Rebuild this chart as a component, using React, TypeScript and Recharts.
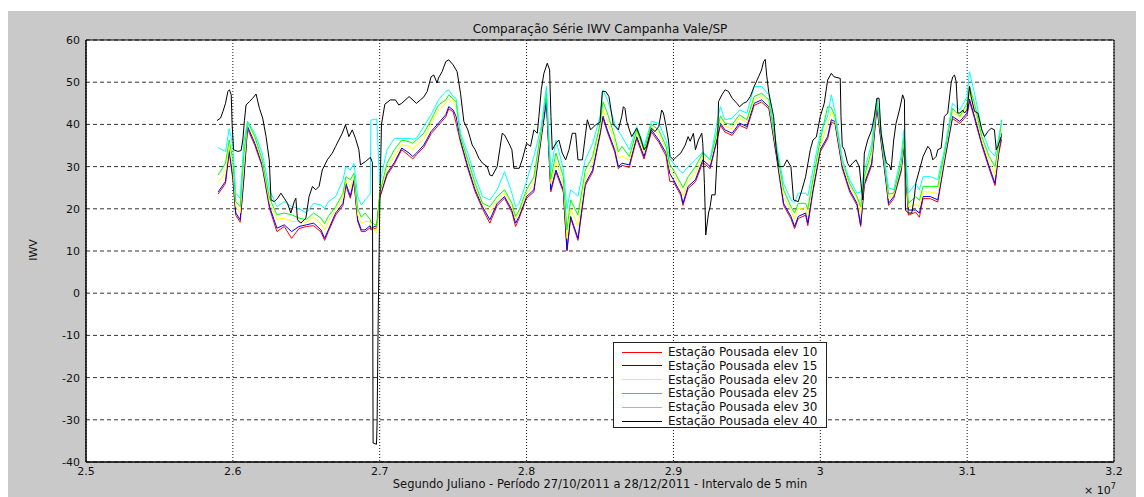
import React from "react";
import { LineChart, Line, XAxis, YAxis, CartesianGrid, ReferenceArea } from "recharts";

// tempo em segundos julianos (x 10^7)
const xs = [
  2.59, 2.595, 2.5975, 2.6, 2.602, 2.605, 2.6075, 2.61, 2.615, 2.62,
  2.625, 2.63, 2.635, 2.64, 2.645, 2.65, 2.655, 2.66, 2.6625, 2.665,
  2.67, 2.675, 2.677, 2.68, 2.6825, 2.685, 2.6875, 2.69, 2.6935, 2.694,
  2.698, 2.7, 2.705, 2.71, 2.715, 2.72, 2.7225, 2.725, 2.73, 2.735,
  2.74, 2.745, 2.747, 2.75, 2.752, 2.755, 2.76, 2.765, 2.77, 2.775,
  2.78, 2.785, 2.79, 2.7925, 2.795, 2.8, 2.805, 2.81, 2.8135, 2.8165,
  2.82, 2.825, 2.8275, 2.83, 2.835, 2.84, 2.845, 2.85, 2.852, 2.855,
  2.86, 2.8625, 2.865, 2.87, 2.875, 2.88, 2.885, 2.89, 2.895, 2.8975,
  2.9, 2.905, 2.9065, 2.91, 2.915, 2.92, 2.925, 2.93, 2.932, 2.935,
  2.94, 2.945, 2.95, 2.955, 2.96, 2.965, 2.97, 2.975, 2.98, 2.9825,
  2.985, 2.99, 2.9915, 2.995, 3.0, 3.005, 3.0075, 3.01, 3.015, 3.02,
  3.025, 3.0275, 3.03, 3.035, 3.0385, 3.04, 3.045, 3.0465, 3.05, 3.055,
  3.057, 3.06, 3.065, 3.0675, 3.07, 3.075, 3.08, 3.085, 3.09, 3.095,
  3.1, 3.1016, 3.105, 3.11, 3.115, 3.119, 3.1215, 3.1235,
];

const elev10 = [
  23.5, 26, 33.5, 27, 18.5, 16.8, 27, 39, 35, 30,
  20, 14.6, 15.8, 13, 15.3, 15.8, 16, 14.5, 12.5, 14.6,
  18.5, 20.8, 25.5, 22.5, 26.4, 17, 14.6, 14.6, 15.5, 15,
  15.5, 22.5, 28, 30.6, 34, 32.6, 31.8, 32.8, 34.6, 37.8,
  39.8, 41.8, 43.7, 43, 40.3, 35.8, 29.5, 24, 20, 16.6,
  20.8, 22.5, 19.2, 15.8, 17.8, 22.5, 24, 36.6, 45.3, 24,
  28.7, 24, 10, 17.8, 12.5, 25.5, 28.7, 37.4, 41.5, 38.2,
  33.5, 29.5, 30.3, 29.8, 36.6, 31.8, 38.2, 35.8, 32.5, 26.5,
  26.4, 23.2, 20.8, 24.8, 26.4, 31, 29.5, 36.6, 39.8, 38.2,
  37.4, 39.8, 39, 44.5, 45.3, 43.7, 32.7, 20.8, 17.7, 15.3,
  17.7, 18.5, 16, 24, 33.5, 36.6, 40.5, 40.2, 29.5, 24,
  20.8, 15.8, 25.5, 30.3, 44, 39.8, 25.5, 20.8, 22.4, 28.7,
  34.5, 18.5, 19.2, 18, 22.4, 22.4, 21.6, 31.9, 41.4, 40.2,
  42.2, 45.5, 41.4, 35, 29.5, 25.5, 33, 36.5,
];

const elev15 = [
  24, 26.5, 34, 27.6, 19, 17.4, 27.5, 39.5, 35.5, 30.4,
  20.5, 15.4, 16.2, 14.6, 15.8, 16.2, 16.6, 15, 13, 15,
  19, 21.3, 26, 23, 26.9, 17.4, 15, 15, 16, 15.4,
  16, 22.9, 28.4, 31, 34.4, 33.2, 32.4, 33.2, 35.1, 38.3,
  40.3, 42.3, 44.2, 43.4, 41.9, 36.3, 30, 24.5, 20.5, 17.4,
  21.3, 22.9, 19.7, 16.6, 18.2, 22.9, 24.5, 37.1, 45.8, 24.5,
  29.2, 24.5, 10.3, 18.2, 13, 26, 29.2, 37.9, 42, 38.7,
  34, 30, 30.8, 30.4, 37.1, 32.4, 38.7, 36.3, 33.2, 28.4,
  26.9, 23.7, 21.3, 25.3, 26.9, 31.6, 30, 37.1, 40.3, 38.7,
  37.9, 40.3, 39.5, 45, 45.8, 44.2, 33.2, 21.3, 18.2, 15.8,
  18.2, 19, 16.6, 24.5, 34, 37.1, 41.1, 40.7, 30, 24.5,
  21.3, 16.2, 26, 30.8, 44.5, 40.3, 26, 21.3, 22.9, 29.2,
  35, 19.7, 19.7, 19, 22.9, 22.9, 22.1, 32.4, 41.9, 40.7,
  42.7, 46, 41.9, 35.5, 30, 26, 33.5, 37.9,
];

const elev20 = [
  26.5, 28.5, 35, 29.5, 20.5, 19, 30, 40.5, 36.5, 31,
  21.5, 17.5, 17.8, 17, 17, 16.8, 18, 16.5, 15, 17,
  19.8, 22.5, 26.8, 25, 27.6, 18.5, 16.5, 17, 17, 16,
  14.2, 23.3, 29.5, 32.5, 35.2, 34.8, 34, 35, 36.5, 40.3,
  43.4, 45, 46, 45.5, 44, 37, 31, 25.3, 21, 19,
  22, 23.8, 20.5, 17.5, 19, 23.5, 26, 38, 49, 26,
  31, 26, 13, 20, 16, 27.5, 30.8, 39, 43.5, 40.8,
  35.5, 32, 32.5, 31.5, 38, 33.3, 39.5, 37.5, 34.3, 29.5,
  28, 25, 23, 26.5, 28.5, 32.5, 31, 38, 41, 39.5,
  39, 41.5, 40.5, 45.8, 46.6, 45, 34, 23, 19.5, 17.5,
  20, 20.3, 18.5, 26, 35, 40, 43, 41.2, 30.8, 25.3,
  22.5, 18.5, 27, 32.5, 45.5, 41.2, 27, 22.5, 23.3, 30,
  36, 20.5, 21, 20.5, 24, 24, 23.5, 33.3, 43, 41.5,
  44, 47.5, 43.5, 36.3, 31.2, 28, 34.5, 39,
];

const elev25 = [
  28, 30.8, 36.3, 31.6, 21.7, 20.5, 33, 40.7, 37.1, 31.6,
  22.5, 18.6, 19, 18.6, 17.8, 17.4, 19, 17.8, 16.5, 18.2,
  20.5, 23.7, 27.6, 26.9, 28.4, 20, 18, 19, 17.5, 16.8,
  16, 23.7, 30.8, 34, 36.3, 35.9, 35.5, 36.3, 37.9, 41.1,
  44.6, 45.8, 47, 46, 45.4, 37.1, 31.6, 26, 21.3, 20.5,
  22.9, 24.5, 21.3, 18.2, 19.7, 24.5, 27.6, 38.7, 47.4, 27,
  33.2, 27.6, 15, 22.1, 18.5, 29.2, 32.4, 40, 45.4, 42.7,
  37.1, 33.5, 34.8, 32.4, 38.7, 34, 40, 38.7, 34.8, 30.5,
  29.2, 26, 25, 27.6, 30, 33.2, 31.6, 38.7, 42, 40.3,
  40, 42.3, 41.1, 46.6, 47.4, 45.8, 34.8, 24.5, 20.5, 19,
  21.3, 21.3, 20, 27, 36.3, 44.2, 44, 41.9, 31.6, 26,
  22.9, 20.5, 27.6, 34, 46, 41.9, 27.6, 23.5, 23.7, 30.8,
  37, 21.3, 22.9, 22, 25.3, 25.3, 25.3, 34, 43.8, 41.9,
  45, 49, 45, 37.1, 32.4, 30, 35.5, 41.1,
];

const elev30 = [
  34.5, 33.6, 39, 34.8, 23.7, 22.5, 36, 40.7, 37.9, 33.2,
  24.5, 20.5, 21.7, 20.5, 20.1, 19, 21.3, 20.9, 20, 21.7,
  22.9, 26.9, 30, 29.2, 30.8, 22.9, 20.9, 22.1, 23.5, 41,
  41.3, 26, 34, 36.7, 36.7, 36.7, 36.5, 36.7, 39.5, 42.3,
  45.8, 47.8, 48.2, 46.6, 46.2, 37.9, 33.2, 27.6, 22.9, 22.1,
  24.5, 28.8, 23.7, 20.5, 21.3, 26.5, 32.4, 39.5, 49, 29,
  36.3, 29.5, 20, 24.5, 23, 31.6, 35.5, 41.9, 48.2, 45.8,
  40.3, 38.5, 37.1, 34, 39.5, 34.8, 40.7, 40.3, 36.3, 32,
  30.8, 28.8, 28.5, 30, 31.6, 33.5, 31.6, 41.1, 44.2, 41.1,
  41.5, 43.4, 42.7, 49, 49, 47, 35.5, 26, 22.1, 21.5,
  23.7, 23.7, 23, 29.2, 37.9, 42, 47, 43, 31.6, 26.9,
  23.7, 24, 29.2, 35.5, 46.2, 42.7, 28.4, 25, 24.5, 32.4,
  38.7, 23.7, 26, 24.5, 27.6, 27.6, 26.9, 34.8, 45, 43.4,
  46.6, 52.5, 47.4, 38.7, 34, 32.5, 37, 40.7,
];

// elev 40 tem amostragem própria (mais pontos nos picos e na falha em 2.7)
const xs40 = [
  2.5892, 2.5916, 2.5932, 2.595, 2.5966, 2.5977, 2.5989, 2.5995, 2.6005, 2.6034,
  2.6056, 2.6068, 2.6079, 2.609, 2.6113, 2.6135, 2.6158, 2.6181, 2.6203, 2.6226,
  2.6248, 2.626, 2.6282, 2.6305, 2.6327, 2.635, 2.6372, 2.6395, 2.6418, 2.6429,
  2.644, 2.6463, 2.6497, 2.6519, 2.6542, 2.6564, 2.6587, 2.6609, 2.6643, 2.6677,
  2.67, 2.6722, 2.6745, 2.6767, 2.679, 2.6813, 2.6835, 2.6858, 2.6869, 2.6903,
  2.6937, 2.695, 2.6955, 2.6978, 2.6982, 2.699, 2.7, 2.7012, 2.7035, 2.7072,
  2.7107, 2.713, 2.715, 2.72, 2.725, 2.7277, 2.73, 2.7323, 2.735, 2.7368,
  2.7391, 2.74, 2.7425, 2.745, 2.747, 2.75, 2.7527, 2.755, 2.7573, 2.76,
  2.763, 2.765, 2.7675, 2.77, 2.7732, 2.775, 2.7766, 2.78, 2.7834, 2.785,
  2.788, 2.79, 2.7914, 2.795, 2.797, 2.8, 2.8027, 2.805, 2.8073, 2.8084,
  2.81, 2.8118, 2.8141, 2.8157, 2.8166, 2.8175, 2.82, 2.822, 2.8243, 2.8266,
  2.8289, 2.8311, 2.8334, 2.835, 2.838, 2.8402, 2.8414, 2.8436, 2.847, 2.85,
  2.8516, 2.8539, 2.8561, 2.859, 2.8625, 2.8648, 2.8659, 2.867, 2.8682, 2.87,
  2.8716, 2.875, 2.8773, 2.88, 2.8818, 2.885, 2.8875, 2.89, 2.892, 2.8932,
  2.895, 2.8966, 2.8977, 2.9, 2.9023, 2.905, 2.908, 2.91, 2.9114, 2.9136,
  2.915, 2.917, 2.9193, 2.92, 2.9211, 2.9216, 2.922, 2.9239, 2.925, 2.9261,
  2.9284, 2.93, 2.9307, 2.933, 2.9352, 2.9375, 2.94, 2.9432, 2.945, 2.9477,
  2.95, 2.9523, 2.955, 2.958, 2.96, 2.9614, 2.9625, 2.9636, 2.965, 2.9682,
  2.97, 2.9716, 2.975, 2.9773, 2.98, 2.9818, 2.985, 2.9875, 2.99, 2.9932,
  2.995, 2.9973, 3.0, 3.0027, 3.005, 3.0075, 3.0093, 3.0136, 3.0141, 3.015,
  3.0164, 3.0186, 3.02, 3.022, 3.0243, 3.0266, 3.0277, 3.0289, 3.03, 3.0323,
  3.035, 3.0368, 3.0386, 3.04, 3.0414, 3.0436, 3.045, 3.047, 3.0482, 3.05,
  3.0516, 3.0539, 3.0561, 3.0573, 3.058, 3.06, 3.0623, 3.0641, 3.065, 3.0675,
  3.07, 3.0732, 3.075, 3.0766, 3.0789, 3.08, 3.0823, 3.0845, 3.0868, 3.0891,
  3.0902, 3.0914, 3.0925, 3.0936, 3.095, 3.097, 3.0982, 3.1, 3.1016, 3.1027,
  3.105, 3.1073, 3.11, 3.1118, 3.1141, 3.1164, 3.1186, 3.1198, 3.1209, 3.1232,
];

const elev40 = [
  40.9, 41.5, 43, 45, 47.8, 48.2, 47, 40, 34, 33.6,
  33.8, 36.3, 41, 44.6, 45.4, 46.2, 47.2, 43.8, 41.5, 37.1,
  31.6, 22.1, 21.7, 22.5, 23.7, 22.5, 21.3, 19, 21.7, 22.5,
  17.4, 16.6, 17.8, 22.9, 25.3, 24.5, 25.3, 29.2, 31.6, 33.2,
  34.8, 36.3, 37.9, 39.9, 37.1, 38.7, 36.7, 34, 30.4, 31.2,
  32.2, 31, -35.5, -35.8, -31, -5, 20, 40, 44.8, 45.8,
  45.8, 44.6, 45, 46.6, 45, 45.8, 46.5, 47.8, 51.3, 51.7,
  49.8, 51, 52.5, 54.9, 55.3, 54.1, 52.5, 47.4, 40.7, 38.7,
  35.1, 34, 32, 30.8, 30, 28, 27.8, 30, 37.9, 37.5,
  35.5, 34, 29.6, 29.6, 31.6, 35.5, 34.8, 38.7, 37.9, 41.9,
  48.2, 52.1, 54.5, 52.9, 41.9, 34, 35.5, 36.3, 33.2, 31.6,
  34, 37.9, 37.9, 31.6, 31.6, 37.9, 41.1, 38.7, 39.9, 40.5,
  47.8, 47.8, 46.6, 40, 38.7, 41.9, 44.2, 43.8, 40.7, 38.7,
  37.1, 39.1, 37.1, 34, 34.8, 39.1, 38.3, 39.5, 43.4, 42.7,
  39.5, 36.3, 32.4, 31.6, 32.4, 33.2, 35.1, 37.1, 36, 37.9,
  34, 36.3, 37.9, 35.5, 26, 19.7, 13.8, 19, 20.5, 23.3,
  23.3, 34, 45.4, 47, 48.2, 47.8, 46.2, 45, 44.2, 45,
  45.4, 46.6, 49, 51.3, 52.9, 54.9, 55.4, 51.3, 47.4, 41.9,
  34, 30, 30, 31.6, 30, 22.1, 21.7, 24.5, 27.6, 34,
  36.3, 37, 41.9, 45, 50.5, 52.1, 51.3, 50.9, 41.9, 34.8,
  34, 30.8, 30, 30.8, 31.6, 30, 26, 22.1, 33.2, 36.3,
  38.7, 41.9, 46.2, 46.2, 37.9, 33.2, 30.8, 30.4, 29.2, 36.3,
  40.3, 43.4, 47, 45.8, 19.7, 19, 19, 22.9, 26, 29.2,
  32.4, 34.8, 34, 31.6, 32.4, 34, 34.4, 41.9, 42.7, 49.8,
  51.3, 51.7, 50.2, 42.7, 42.7, 43.4, 42.7, 43.4, 49, 46.6,
  43.1, 42.7, 38.7, 37.1, 38.3, 39.1, 38.7, 34, 34.8, 37.1,
];

const xTicks = [2.5, 2.6, 2.7, 2.8, 2.9, 3, 3.1, 3.2];
const xTickLabels = ["2.5", "2.6", "2.7", "2.8", "2.9", "3", "3.1", "3.2"];
const yTicks = [-40, -30, -20, -10, 0, 10, 20, 30, 40, 50, 60];

const seriesNames = [
  "Estação Pousada elev 10",
  "Estação Pousada elev 15",
  "Estação Pousada elev 20",
  "Estação Pousada elev 25",
  "Estação Pousada elev 30",
  "Estação Pousada elev 40",
];
const seriesColors = ["#ff0000", "#0000ff", "#ffff00", "#00ff00", "#00ffff", "#000000"];

const FONT = '"DejaVu Sans", "Liberation Sans", sans-serif';

const pts = (x: number[], v: number[]) => x.map((xv, i) => ({ x: xv, v: v[i] }));

const series = [
  pts(xs, elev10),
  pts(xs, elev15),
  pts(xs, elev20),
  pts(xs, elev25),
  pts(xs, elev30),
  pts(xs40, elev40),
].map((data, i) => ({ data, name: seriesNames[i], color: seriesColors[i] }));

const xLabel = (v: number) => {
  const i = xTicks.findIndex((t) => Math.abs(t - v) < 1e-6);
  return i >= 0 ? xTickLabels[i] : String(v);
};

function LegendBox() {
  return (
    <div
      style={{
        position: "absolute", left: 605, top: 331, width: 212, height: 84,
        background: "#fff", border: "1px solid #222", fontSize: 12, color: "#111",
      }}
    >
      {series.map((s, i) => (
        <div key={s.name} style={{ position: "absolute", left: 0, top: 2 + i * 13.8, height: 14, display: "flex", alignItems: "center" }}>
          <div style={{ width: 40, height: 0, borderTop: `1px solid ${s.color}`, marginLeft: 8, marginRight: 6 }} />
          <span style={{ whiteSpace: "nowrap", lineHeight: "14px" }}>{s.name}</span>
        </div>
      ))}
    </div>
  );
}

export default function App() {
  return (
    <div style={{ paddingTop: 3 }}>
      <div style={{ position: "relative", width: 1128, height: 486, background: "#c9c9c9", fontFamily: FONT, color: "#111" }}>
        <LineChart width={1128} height={486} margin={{ top: 29, right: 22, bottom: 0, left: 0 }}>
          <CartesianGrid horizontal vertical={false} fill="#fff" stroke="#333" strokeDasharray="4 3" />
          <CartesianGrid horizontal={false} vertical stroke="#111" strokeDasharray="1 2" />
          <XAxis
            type="number" dataKey="x" domain={[2.5, 3.2]} ticks={xTicks} interval={0}
            tickFormatter={xLabel} allowDataOverflow height={35}
            tickLine={false} tickSize={0} tickMargin={5} axisLine={{ stroke: "#000" }}
            tick={{ fontSize: 11, fill: "#111", fontFamily: FONT }}
          />
          <YAxis
            type="number" domain={[-40, 60]} ticks={yTicks} interval={0} allowDataOverflow width={78}
            tickLine={false} tickSize={0} tickMargin={6} axisLine={{ stroke: "#000" }}
            tick={{ fontSize: 11, fill: "#111", fontFamily: FONT }}
          />
          {series.map((s) => (
            <Line
              key={s.name} data={s.data} dataKey="v" name={s.name} type="linear"
              stroke={s.color} strokeWidth={1} dot={false} activeDot={false} isAnimationActive={false}
            />
          ))}
          <ReferenceArea x1={2.5} x2={3.2} y1={-40} y2={60} fill="none" stroke="#000" strokeWidth={1} ifOverflow="visible" />
        </LineChart>

        <div style={{ position: "absolute", left: 78, width: 1028, top: 11, textAlign: "center", fontSize: 12 }}>
          Comparação Série IWV Campanha Vale/SP
        </div>
        <div style={{ position: "absolute", left: 78, width: 1028, top: 466, textAlign: "center", fontSize: 11.5 }}>
          Segundo Juliano - Período 27/10/2011 a 28/12/2011 - Intervalo de 5 min
        </div>
        <div style={{ position: "absolute", left: 1076, top: 471, fontSize: 11 }}>
          × 10<sup style={{ fontSize: 8 }}>7</sup>
        </div>
        <div style={{ position: "absolute", left: 25, top: 239, fontSize: 11, transform: "translate(-50%, -50%) rotate(-90deg)" }}>
          IWV
        </div>
        <LegendBox />
      </div>
    </div>
  );
}
